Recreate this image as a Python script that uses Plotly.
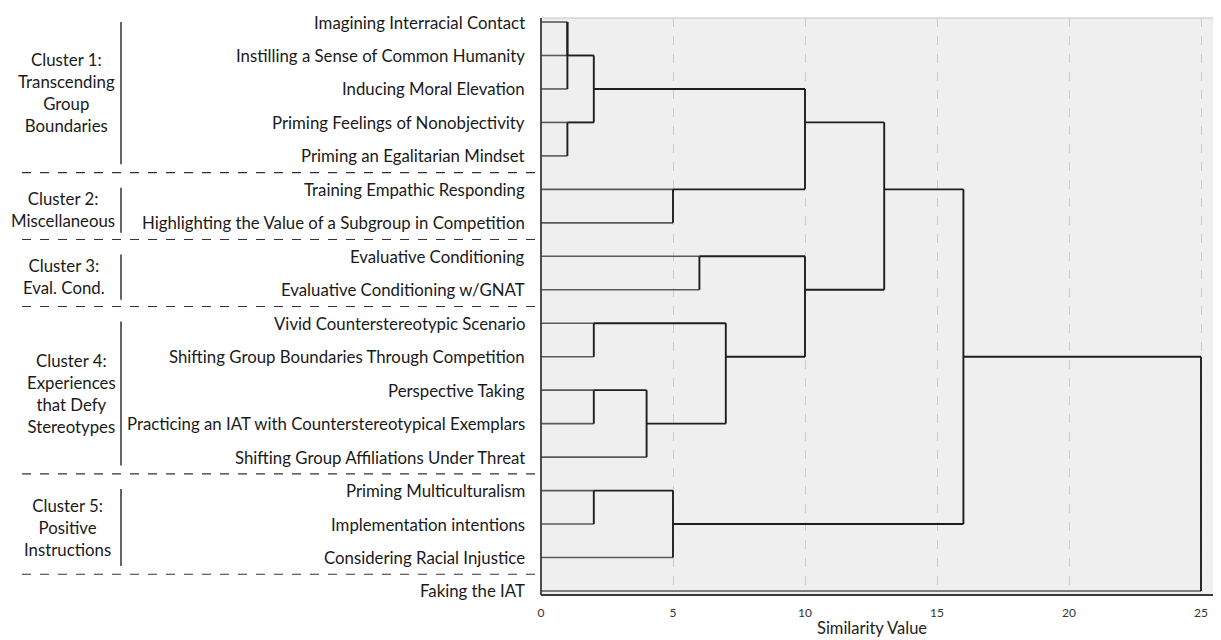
import plotly.graph_objects as go

# ---------------- data ----------------
leaves = [
    "Imagining Interracial Contact",
    "Instilling a Sense of Common Humanity",
    "Inducing Moral Elevation",
    "Priming Feelings of Nonobjectivity",
    "Priming an Egalitarian Mindset",
    "Training Empathic Responding",
    "Highlighting the Value of a Subgroup in Competition",
    "Evaluative Conditioning",
    "Evaluative Conditioning w/GNAT",
    "Vivid Counterstereotypic Scenario",
    "Shifting Group Boundaries Through Competition",
    "Perspective Taking",
    "Practicing an IAT with Counterstereotypical Exemplars",
    "Shifting Group Affiliations Under Threat",
    "Priming Multiculturalism",
    "Implementation intentions",
    "Considering Racial Injustice",
    "Faking the IAT",
]

# merges: node ids 0..17 are leaves, merge k creates node 18+k
merge_left = [0, 18, 3, 19, 5, 21, 7, 9, 11, 26, 25, 24, 23, 14, 31, 30, 33]
merge_right = [1, 2, 4, 20, 6, 22, 8, 10, 12, 13, 27, 28, 29, 15, 16, 32, 17]
merge_height = [1, 1, 1, 2, 5, 10, 6, 2, 2, 4, 7, 10, 13, 2, 5, 16, 25]

cluster_labels = [
    "Cluster 1:<br>Transcending<br>Group<br>Boundaries",
    "Cluster 2:<br>Miscellaneous",
    "Cluster 3:<br>Eval. Cond.",
    "Cluster 4:<br>Experiences<br>that Defy<br>Stereotypes",
    "Cluster 5:<br>Positive<br>Instructions",
]
cluster_first_leaf = [1, 6, 8, 10, 15]
cluster_last_leaf = [5, 7, 9, 14, 17]

x_ticks = [0, 5, 10, 15, 20, 25]
x_title = "Similarity Value"

# ---------------- layout geometry (page pixels) ----------------
PAGE_W, PAGE_H = 1221, 640
OFF = 8                      # default body margin of the html page
L, T, BOT = 541, 18, 595     # plot area edges in page pixels
X25 = 1201                   # pixel where the value 25 sits
PW = PAGE_W - L
FONT = "Lato"


def px(x):
    return (x - L) / PW


n = len(leaves)
node_row = {i: i + 1 for i in range(n)}
node_x = {i: 0.0 for i in range(n)}

leaf_x, leaf_y = [], []
clu_x, clu_y = [], []
for k, (a, b, h) in enumerate(zip(merge_left, merge_right, merge_height)):
    nid = n + k
    for c in (a, b):
        if c < n:
            leaf_x += [node_x[c], h, None]
            leaf_y += [node_row[c], node_row[c], None]
        else:
            clu_x += [node_x[c], h, None]
            clu_y += [node_row[c], node_row[c], None]
    clu_x += [h, h, None]
    clu_y += [node_row[a], node_row[b], None]
    node_row[nid] = (node_row[a] + node_row[b]) // 2
    node_x[nid] = h

fig = go.Figure()
fig.add_trace(go.Scatter(x=leaf_x, y=leaf_y, mode="lines",
                         line=dict(color="#5a5a5a", width=1.6),
                         hoverinfo="skip", showlegend=False))
fig.add_trace(go.Scatter(x=clu_x, y=clu_y, mode="lines",
                         line=dict(color="#1e1e1e", width=1.9),
                         hoverinfo="skip", showlegend=False))

annotations = []
for i, name in enumerate(leaves):
    annotations.append(dict(x=0, y=i + 1, xref="x", yref="y", text=name,
                            showarrow=False, xanchor="right", yanchor="middle",
                            xshift=-14, font=dict(family=FONT, size=16.8, color="#1a1a1a")))

centers_x = [66, 63, 64, 71, 67]
shapes = []
for lab, f, l, cx in zip(cluster_labels, cluster_first_leaf, cluster_last_leaf, centers_x):
    annotations.append(dict(x=px(cx), y=(f + l) / 2 + 0.1, xref="paper", yref="y", text=lab,
                            showarrow=False, xanchor="center", yanchor="middle",
                            font=dict(family=FONT, size=16.8, color="#1a1a1a")))
    shapes.append(dict(type="line", xref="paper", yref="y", x0=px(121), x1=px(121),
                       y0=f - 0.05 if f > 1 else f, y1=l + 0.25 if l - f > 1 else l + 0.3,
                       line=dict(color="#111", width=1.3)))

# dashed separators between clusters
for l in cluster_last_leaf:
    shapes.append(dict(type="line", xref="paper", yref="y", x0=px(22), x1=0,
                       y0=l + 0.5, y1=l + 0.5,
                       line=dict(color="#333", width=1.1, dash="dash")))

# plot border: top thin gray, left & bottom dark
shapes.append(dict(type="line", xref="paper", yref="paper", x0=0, x1=1, y0=1, y1=1,
                   line=dict(color="#c4c4c4", width=1)))
shapes.append(dict(type="line", xref="paper", yref="paper", x0=0, x1=1, y0=0, y1=0,
                   line=dict(color="#3a3a3a", width=1.8)))
shapes.append(dict(type="line", xref="paper", yref="paper", x0=0, x1=0, y0=0, y1=1,
                   line=dict(color="#3a3a3a", width=1.8)))

# axis title as annotation (slightly left of the axis centre, as in the original)
annotations.append(dict(x=px(872), y=-(628 - BOT) / (BOT - T), xref="paper", yref="paper",
                        text=x_title, showarrow=False, xanchor="center", yanchor="middle",
                        font=dict(family=FONT, size=16.5, color="#222")))

fig.update_layout(
    width=PAGE_W - OFF, height=PAGE_H - OFF,
    margin=dict(l=L - OFF, r=0, t=T - OFF, b=PAGE_H - BOT, autoexpand=False),
    paper_bgcolor="white",
    plot_bgcolor="#efefef",
    annotations=annotations,
    shapes=shapes,
    xaxis=dict(range=[0, (PAGE_W - L) / (X25 - L) * 25], tickmode="array", tickvals=x_ticks,
               ticktext=[str(t) for t in x_ticks], showgrid=True, gridcolor="#cdcdcd",
               griddash="dash", gridwidth=1, zeroline=False, showline=False, ticks="",
               ticklabelstandoff=9,
               tickfont=dict(family=FONT, size=12, color="#333")),
    yaxis=dict(range=[18.12, 0.88], showgrid=False, zeroline=False, showticklabels=False,
               ticks="", showline=False),
)

fig.write_html("out.html")
